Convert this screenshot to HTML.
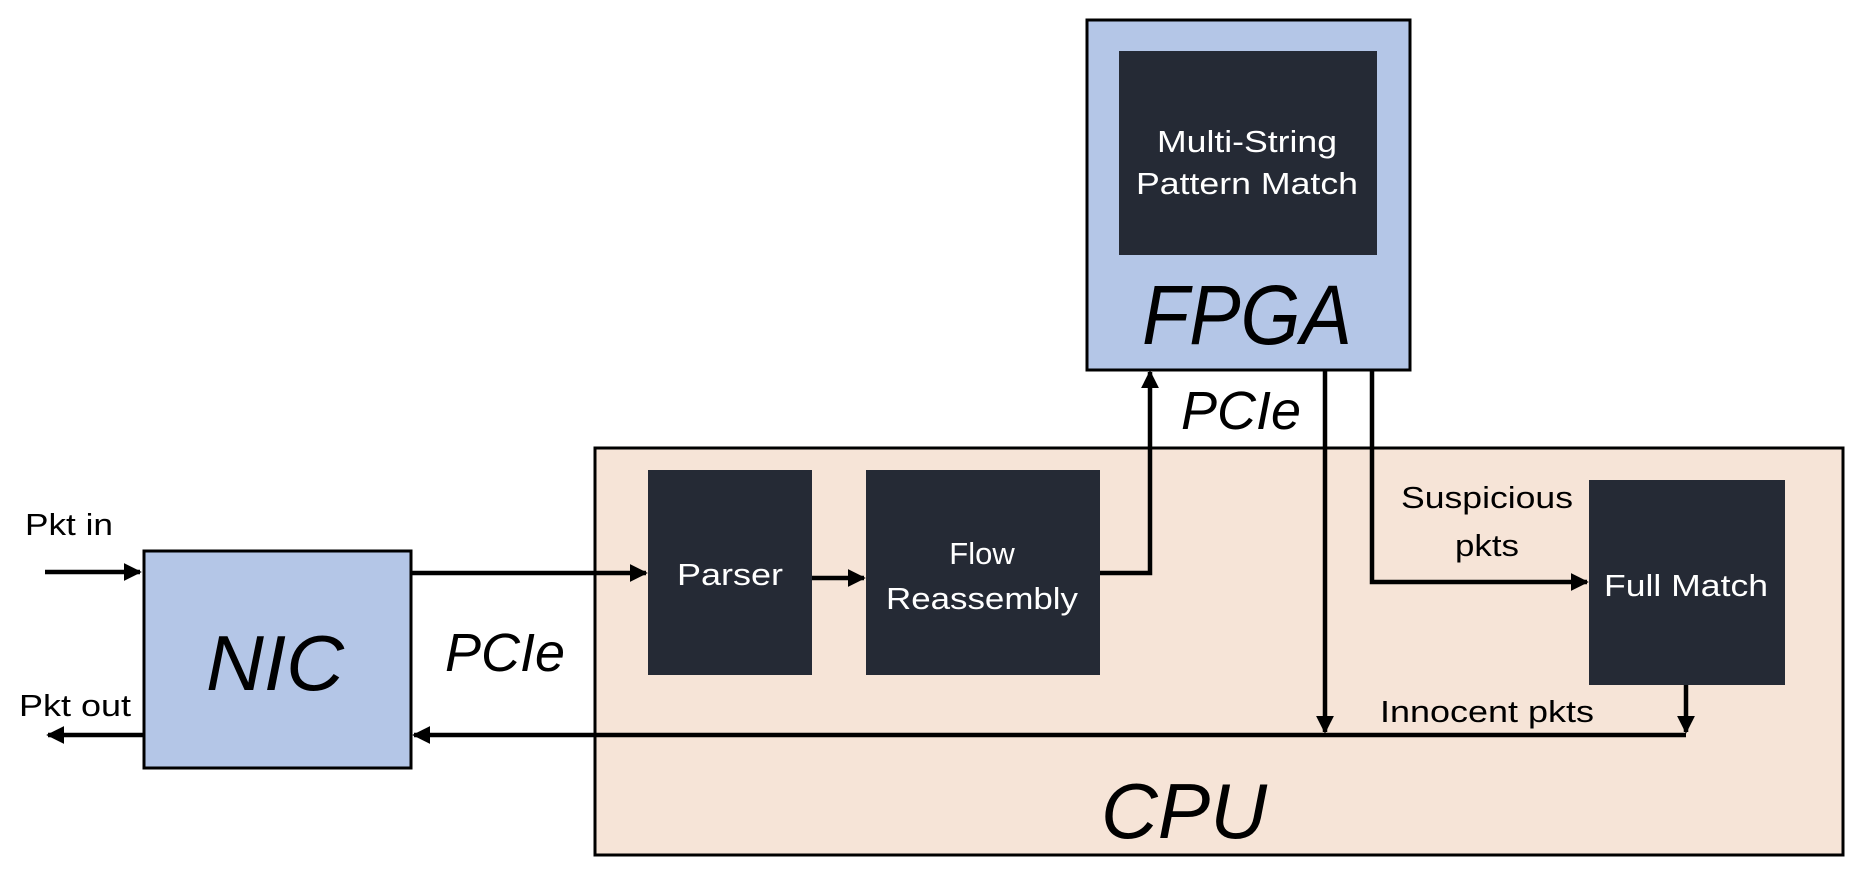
<!DOCTYPE html>
<html><head><meta charset="utf-8"><style>
body{margin:0;width:1862px;height:880px;background:#fff;overflow:hidden}
svg{display:block}
text{font-family:"Liberation Sans",sans-serif}
</style></head><body>
<svg width="1862" height="880" viewBox="0 0 1862 880" xmlns="http://www.w3.org/2000/svg">
<defs><marker id="a" markerWidth="4" markerHeight="4" refX="3.6" refY="2" orient="auto" markerUnits="strokeWidth"><path d="M0,0 L4,2 L0,4 z" fill="#000"/></marker></defs>
<rect x="595" y="448" width="1248" height="407" fill="#f6e4d7" stroke="#000" stroke-width="3"/>
<rect x="1087" y="20" width="323" height="350" fill="#b4c6e7" stroke="#000" stroke-width="3"/>
<rect x="1119" y="51" width="258" height="204" fill="#252a35"/>
<rect x="144" y="551" width="267" height="217" fill="#b4c6e7" stroke="#000" stroke-width="3"/>
<rect x="648" y="470" width="164" height="205" fill="#252a35"/>
<rect x="866" y="470" width="234" height="205" fill="#252a35"/>
<rect x="1589" y="480" width="196" height="205" fill="#252a35"/>
<g stroke="#000" stroke-width="4.5" fill="none">
<line x1="45" y1="572" x2="140" y2="572" marker-end="url(#a)"/>
<line x1="144" y1="735" x2="48" y2="735" marker-end="url(#a)"/>
<line x1="411" y1="573" x2="646" y2="573" marker-end="url(#a)"/>
<line x1="812" y1="578" x2="864" y2="578" marker-end="url(#a)"/>
<polyline points="1100,573 1150,573 1150,372" marker-end="url(#a)"/>
<line x1="1325" y1="370" x2="1325" y2="732" marker-end="url(#a)"/>
<polyline points="1372,370 1372,582 1587,582" marker-end="url(#a)"/>
<line x1="1686" y1="685" x2="1686" y2="732" marker-end="url(#a)"/>
<line x1="1686" y1="735" x2="414" y2="735" marker-end="url(#a)"/>
</g>
<g fill="#fff" font-size="31" text-anchor="middle">
<text x="1247" y="152" textLength="180" lengthAdjust="spacingAndGlyphs">Multi-String</text>
<text x="1247" y="194" textLength="222" lengthAdjust="spacingAndGlyphs">Pattern Match</text>
<text x="730" y="585" textLength="106" lengthAdjust="spacingAndGlyphs">Parser</text>
<text x="982" y="564">Flow</text>
<text x="982" y="609" textLength="192" lengthAdjust="spacingAndGlyphs">Reassembly</text>
<text x="1686" y="596" textLength="164" lengthAdjust="spacingAndGlyphs">Full Match</text>
</g>
<g fill="#000" text-anchor="middle" font-style="italic">
<text x="1247" y="344" font-size="84" textLength="210" lengthAdjust="spacingAndGlyphs">FPGA</text>
<text x="275" y="690" font-size="78" textLength="138" lengthAdjust="spacingAndGlyphs">NIC</text>
<text x="1184" y="838" font-size="78" textLength="166" lengthAdjust="spacingAndGlyphs">CPU</text>
<text x="505" y="671" font-size="54" textLength="120" lengthAdjust="spacingAndGlyphs">PCIe</text>
<text x="1241" y="429" font-size="54" textLength="120" lengthAdjust="spacingAndGlyphs">PCIe</text>
</g>
<g fill="#000" font-size="31" text-anchor="middle">
<text x="69" y="535" textLength="88" lengthAdjust="spacingAndGlyphs">Pkt in</text>
<text x="75" y="716" textLength="112" lengthAdjust="spacingAndGlyphs">Pkt out</text>
<text x="1487" y="508" textLength="172" lengthAdjust="spacingAndGlyphs">Suspicious</text>
<text x="1487" y="556" textLength="64" lengthAdjust="spacingAndGlyphs">pkts</text>
<text x="1487" y="722" textLength="214" lengthAdjust="spacingAndGlyphs">Innocent pkts</text>
</g>
</svg>
</body></html>
